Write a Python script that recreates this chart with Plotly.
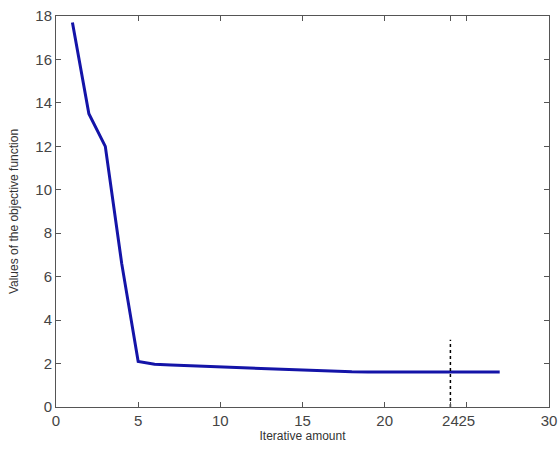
import plotly.graph_objects as go

iterations = list(range(1, 28))
objective = [17.7, 13.5, 12.0, 6.6, 2.1, 1.97, 1.93, 1.9, 1.87, 1.84, 1.81, 1.78,
             1.75, 1.72, 1.69, 1.67, 1.65, 1.62, 1.61, 1.61, 1.61, 1.61, 1.61,
             1.61, 1.61, 1.61, 1.61]
marker_x = [24, 24]
marker_y = [0, 3.1]
x_ticks = [0, 5, 10, 15, 20, 24, 25, 30]
y_ticks = list(range(0, 19, 2))

fig = go.Figure()
fig.add_trace(go.Scatter(x=iterations, y=objective, mode="lines",
                         line=dict(color="#1414a8", width=3), showlegend=False))
fig.add_trace(go.Scatter(x=marker_x, y=marker_y, mode="lines",
                         line=dict(color="#000000", width=1.5, dash="dot"), showlegend=False))

axis_common = dict(showgrid=False, zeroline=False, showline=True, linecolor="#555555",
                   linewidth=1, mirror="allticks", ticks="inside", ticklen=5,
                   tickcolor="#555555", automargin=False, tickangle=0,
                   ticklabeloverflow="allow",
                   tickfont=dict(family="Liberation Sans, Arial", size=15, color="#444444"))

fig.update_layout(
    width=558, height=450,
    margin=dict(l=56, r=9, t=16, b=43),
    plot_bgcolor="white", paper_bgcolor="white",
    xaxis=dict(range=[0, 30], tickvals=x_ticks, ticktext=[str(v) for v in x_ticks],
               title=dict(text="Iterative amount", standoff=0,
                          font=dict(family="Liberation Sans, Arial", size=12, color="#333333")),
               **axis_common),
    yaxis=dict(range=[0, 18], tickvals=y_ticks,
               title=dict(text="Values of the objective function", standoff=14,
                          font=dict(family="Liberation Sans, Arial", size=12, color="#333333")),
               **axis_common),
)

fig.write_html("out.html", config={"displayModeBar": False},
               post_script="document.body.style.margin='0';document.body.style.overflow='hidden';")
